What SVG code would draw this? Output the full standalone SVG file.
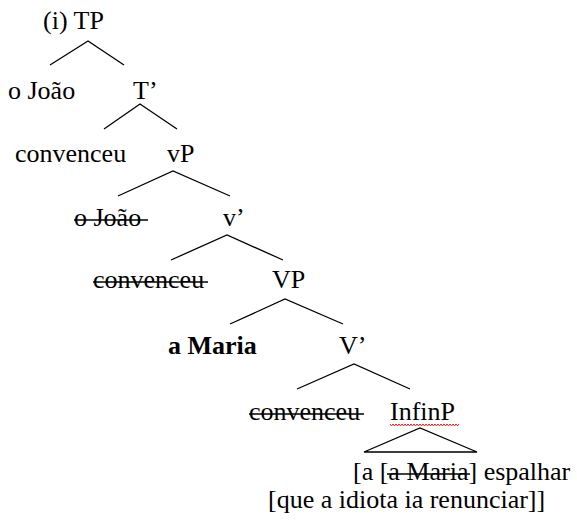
<svg xmlns="http://www.w3.org/2000/svg" width="577" height="520" viewBox="0 0 577 520">
<style>
text{font-family:'Liberation Serif','Times New Roman','DejaVu Serif',Tinos,serif;font-size:26px;fill:#000}
.b{font-weight:bold}
.e{stroke:#000;stroke-width:1.3;fill:none}
.s{stroke:#000;stroke-width:1.4}
</style>
<rect width="577" height="520" fill="#fff"/>
<g id="connectors">
<path class="e" d="M50,65 L88,41 L124,65"/>
<path class="e" d="M104,129 L140,104 L177,129"/>
<path class="e" d="M118,196 L173,171 L230,196"/>
<path class="e" d="M171,260 L227,235 L283,260"/>
<path class="e" d="M230,324 L285,299 L343,324"/>
<path class="e" d="M297,389 L354,364 L410,389"/>
<path class="e" d="M364,452 L420,428 L477,452 Z"/>
</g>
<g id="n-TP"><text x="43" y="29">(i) TP</text></g>
<g id="n-oJoao"><text x="8" y="99">o João</text></g>
<g id="n-Tbar"><text x="133" y="99">T’</text></g>
<g id="n-convenceu1"><text x="15" y="162">convenceu</text></g>
<g id="n-vP"><text x="167" y="162">vP</text></g>
<g id="n-oJoao2"><text x="74" y="226">o João</text><line class="s" x1="74" y1="220" x2="148" y2="220"/></g>
<g id="n-vbar"><text x="223" y="226">v’</text></g>
<g id="n-convenceu2"><text x="93" y="288">convenceu</text><line class="s" x1="93" y1="282" x2="208" y2="282"/></g>
<g id="n-VP"><text x="272" y="288">VP</text></g>
<g id="n-aMaria"><text class="b" x="168" y="354">a Maria</text></g>
<g id="n-Vbar"><text x="339" y="354">V’</text></g>
<g id="n-convenceu3"><text x="249" y="420">convenceu</text><line class="s" x1="249" y1="414" x2="364" y2="414"/></g>
<g id="n-InfinP"><text x="390" y="420">InfinP</text>
<path d="M390,424 l1.5,2 l1.5,-2 l1.5,2 l1.5,-2 l1.5,2 l1.5,-2 l1.5,2 l1.5,-2 l1.5,2 l1.5,-2 l1.5,2 l1.5,-2 l1.5,2 l1.5,-2 l1.5,2 l1.5,-2 l1.5,2 l1.5,-2 l1.5,2 l1.5,-2 l1.5,2 l1.5,-2 l1.5,2 l1.5,-2 l1.5,2 l1.5,-2 l1.5,2 l1.5,-2 l1.5,2 l1.5,-2 l1.5,2 l1.5,-2 l1.5,2 l1.5,-2 l1.5,2 l1.5,-2 l1.5,2 l1.5,-2 l1.5,2 l1.5,-2 l1.5,2 l1.5,-2 l1.5,2 l1.5,-2 l1.5,2 l1.5,-2" fill="none" stroke="#d22" stroke-width="1"/></g>
<g id="n-clause"><text x="353" y="480">[a [a Maria] espalhar</text><line class="s" x1="387" y1="474" x2="470" y2="474"/>
<text x="268" y="508">[que a idiota ia renunciar]]</text></g>
</svg>
